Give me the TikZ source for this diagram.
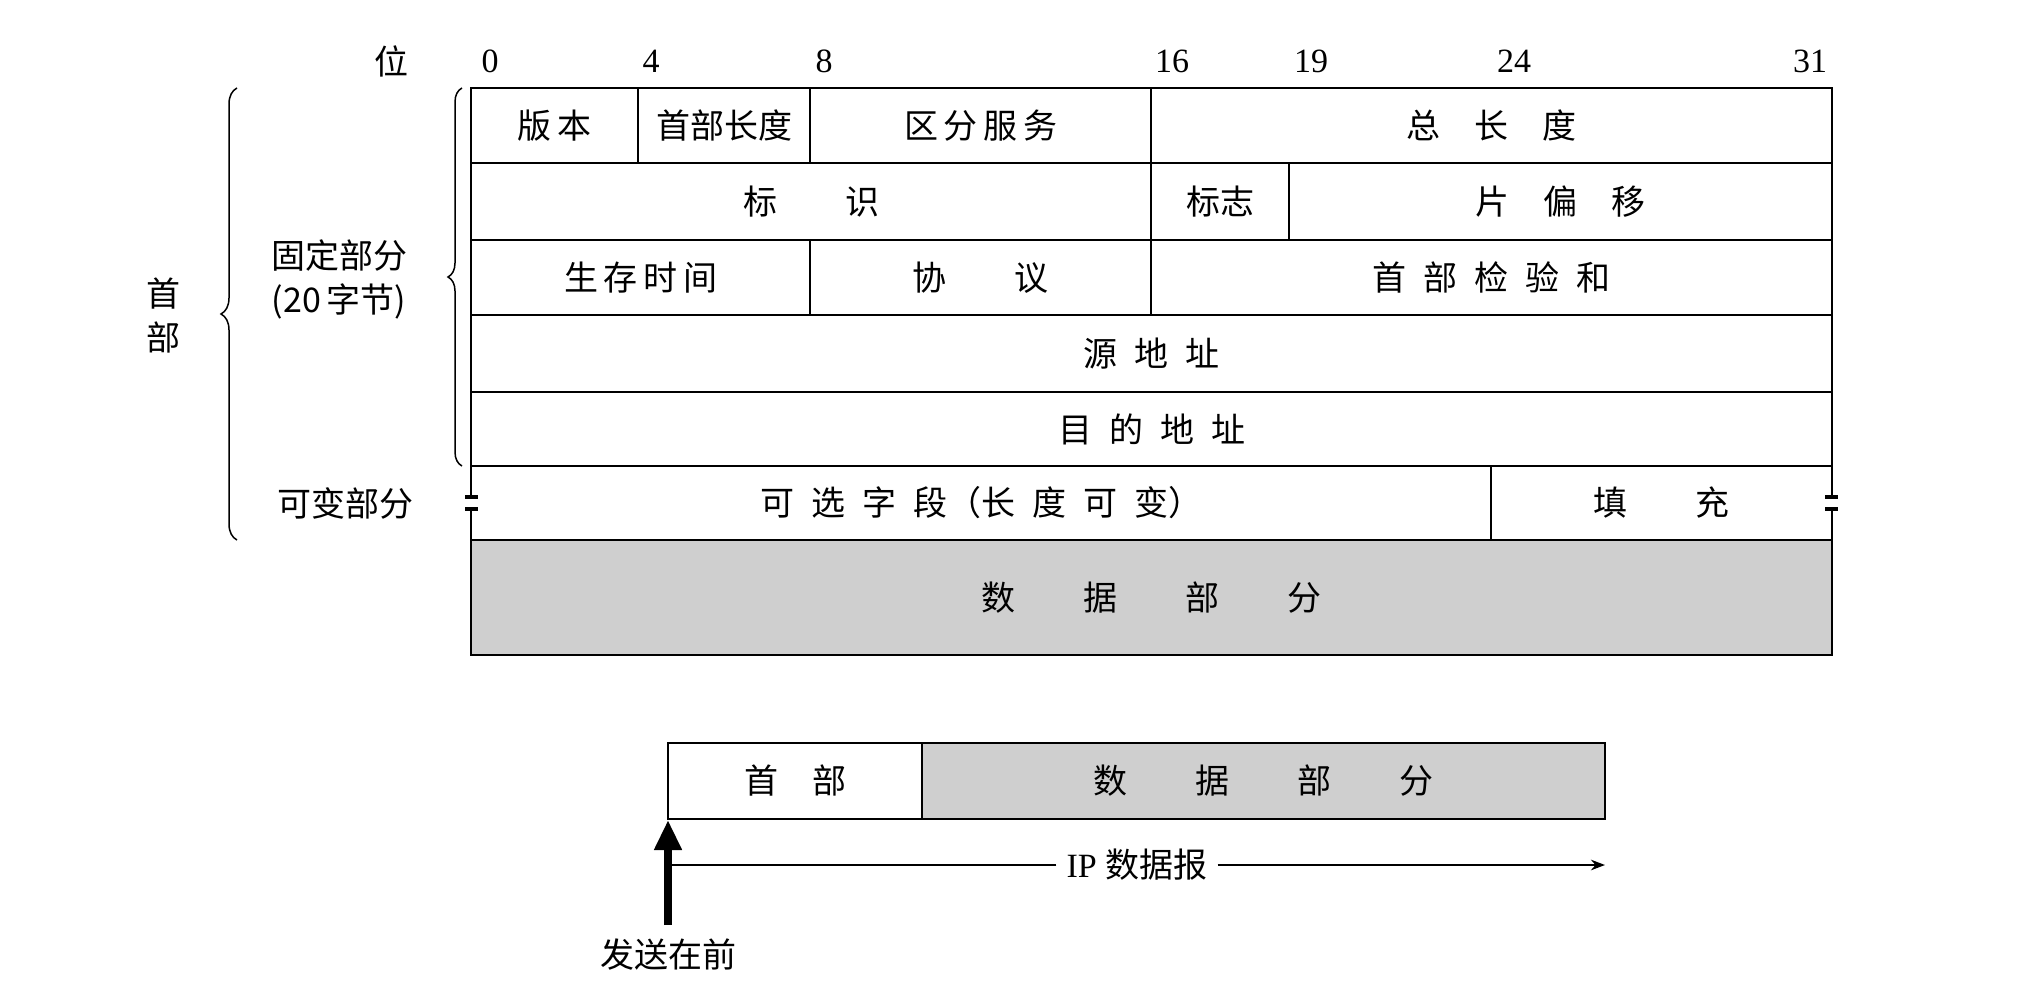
\documentclass[tikz,border=0pt]{standalone}
\usepackage{fontspec}
\setmainfont{Liberation Serif}
\newfontfamily\cjk{Noto Sans CJK SC}
\usetikzlibrary{decorations.pathreplacing,arrows.meta}
\begin{document}
\begin{tikzpicture}[x=1pt,y=-1pt,
  cell/.style={draw,line width=1.8pt},
  lab/.style={font=\cjk\fontsize{34}{44}\selectfont,inner sep=0},
  num/.style={font=\fontsize{34}{36}\selectfont,inner sep=0},
  gry/.style={cell,fill=gray!38}]
\useasboundingbox (0,0) rectangle (2018,1000);
% rows
\draw[cell] (471,88) rectangle (638,163) node[midway,lab]{版\,本};
\draw[cell] (638,88) rectangle (810,163) node[midway,lab]{首部长度};
\draw[cell] (810,88) rectangle (1151,163) node[midway,lab]{区\,分\,服\,务};
\draw[cell] (1151,88) rectangle (1832,163) node[midway,lab]{总\quad 长\quad 度};
\draw[cell] (471,163) rectangle (1151,240) node[midway,lab]{标\qquad 识};
\draw[cell] (1151,163) rectangle (1289,240) node[midway,lab]{标志};
\draw[cell] (1289,163) rectangle (1832,240) node[midway,lab]{片\quad 偏\quad 移};
\draw[cell] (471,240) rectangle (810,315) node[midway,lab]{生\,存\,时\,间};
\draw[cell] (810,240) rectangle (1151,315) node[midway,lab]{协\qquad 议};
\draw[cell] (1151,315) rectangle (1832,240) node[midway,lab]{首\enskip 部\enskip 检\enskip 验\enskip 和};
\draw[cell] (471,315) rectangle (1832,392) node[midway,lab]{源\enskip 地\enskip 址};
\draw[cell] (471,392) rectangle (1832,466) node[midway,lab]{目\enskip 的\enskip 地\enskip 址};
\draw[line width=1.8pt] (471,466) -- (1832,466) (471,540) -- (1832,540) (1491,466) -- (1491,540);
\draw[line width=1.8pt] (471,466) -- (471,495) (471,511) -- (471,540) (1832,466) -- (1832,495) (1832,511) -- (1832,540);
\draw[line width=4pt] (465,497) -- (478,497) (465,509) -- (478,509) (1825,497) -- (1838,497) (1825,509) -- (1838,509);
\node[lab] (opt) at (981,503) {可\enskip 选\enskip 字\enskip 段（长\enskip 度\enskip 可\enskip 变）};
\node[lab] (pad) at (1661,503) {填\qquad 充};
\draw[gry] (471,540) rectangle (1832,655) node[midway,lab]{数\qquad 据\qquad 部\qquad 分};
% bit numbers
\node[lab] (wei) at (391,61) {位};
\foreach \n/\x in {0/490,4/651,8/824,16/1172,19/1311,24/1514,31/1810}
  \node[num] (b\n) at (\x,61) {\n};
% braces
\draw[line width=1.5pt,decorate,decoration={brace,amplitude=16pt}] (237,540) -- (237,88);
\draw[line width=1.5pt,decorate,decoration={brace,amplitude=14pt}] (462,466) -- (462,88);
\node[lab,align=center] (shou) at (163,315) {首\\部};
\node[lab,align=center] (gd) at (339,279) {固定部分\\(20\,字节)};
\node[lab] (kb) at (345,503) {可变部分};
% bottom
\draw[cell] (668,743) rectangle (922,819) node[midway,lab]{首\quad 部};
\draw[gry] (922,743) rectangle (1605,819) node[midway,lab]{数\qquad 据\qquad 部\qquad 分};
\node[lab,fill=white,inner xsep=10pt] (ip) at (1137,865) {\fontspec{Liberation Serif}IP \cjk 数据报};
\coordinate (L) at (668,865); \coordinate (R) at (1605,865);
\draw[line width=2.5pt,-{Stealth[length=14pt]}] (ip.east) -- (R);
\draw[line width=2.5pt] (ip.west) -- (L);
\node[lab] (fs) at (668,955) {发送在前};
\draw[line width=8pt,-{Triangle[length=30pt,width=26pt]}] (668,925) -- (668,820);
\end{tikzpicture}
\end{document}
